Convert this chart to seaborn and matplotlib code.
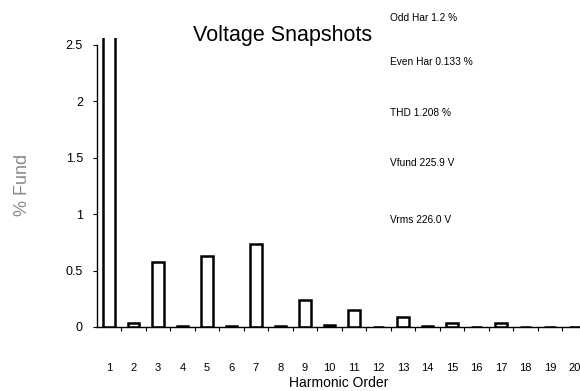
import numpy as np
import pandas as pd
import seaborn as sns
import matplotlib
matplotlib.use("Agg")
import matplotlib.pyplot as plt
from matplotlib.ticker import FixedLocator

# Harmonic spectrum (% of fundamental)
harmonics = list(range(1, 21))
pct_fund = [100.0, 0.035, 0.575, 0.005, 0.63, 0.005, 0.735, 0.01, 0.24, 0.015,
            0.15, 0.0, 0.085, 0.005, 0.035, 0.0, 0.035, 0.0, 0.0, 0.0]
y_ticks = [0, 0.5, 1, 1.5, 2, 2.5]
y_tick_labels = ["0", "0.5", "1", "1.5", "2", "2.5"]
summary_lines = ["Odd Har 1.2 %", "Even Har 0.133 %", "THD 1.208 %",
                 "Vfund 225.9 V", "Vrms 226.0 V"]

sns.set_theme(style="white")
plt.rcParams["font.family"] = ["Liberation Sans", "DejaVu Sans"]

df = pd.DataFrame({"Harmonic": [str(h) for h in harmonics], "Pct": pct_fund})

fig = plt.figure(figsize=(5.8, 3.91), dpi=100)
ax = fig.add_axes([0.167, 0.1637, 0.833, 0.739])

sns.barplot(data=df, x="Harmonic", y="Pct", order=df["Harmonic"], ax=ax,
            color="white", edgecolor="black", linewidth=1.8, width=0.48,
            saturation=1)

ax.set_ylim(0, 2.56)
ax.set_xlim(-0.49, 19.22)

ax.set_yticks(y_ticks)
ax.set_yticklabels(y_tick_labels, fontsize=9)
ax.tick_params(axis="y", length=3, width=0.8, color="black", pad=7, left=True,
               labelcolor="black")

ax.set_xticks(range(len(harmonics)))
ax.set_xticklabels(df["Harmonic"], fontsize=8)
ax.tick_params(axis="x", which="major", length=0, pad=26, labelcolor="black")
ax.xaxis.set_minor_locator(FixedLocator(np.arange(0.5, 19.5, 1.0)))
ax.tick_params(axis="x", which="minor", bottom=True, length=3, width=0.8, color="black")

for side in ["top", "right"]:
    ax.spines[side].set_visible(False)
ax.spines["left"].set_bounds(0, 2.5)
ax.spines["left"].set_linewidth(1.0)
ax.spines["bottom"].set_linewidth(1.0)
ax.spines["left"].set_color("black")
ax.spines["bottom"].set_color("black")

ax.set_xlabel("Harmonic Order", fontsize=10, labelpad=2, color="black")
ax.set_ylabel("")
fig.text(0.038, 0.527, "% Fund", rotation=90, fontsize=13, color="#8a8a8a",
         ha="center", va="center")

fig.text(0.487, 0.91, "Voltage Snapshots", fontsize=15.5, ha="center", va="center",
         color="black")

y_pos = [0.955, 0.842, 0.712, 0.583, 0.437]
for txt, yp in zip(summary_lines, y_pos):
    fig.text(0.672, yp, txt, fontsize=7.3, ha="left", va="center", color="black",
             family=["Liberation Sans Narrow", "Liberation Sans"])

fig.savefig("out.png", dpi=100)
